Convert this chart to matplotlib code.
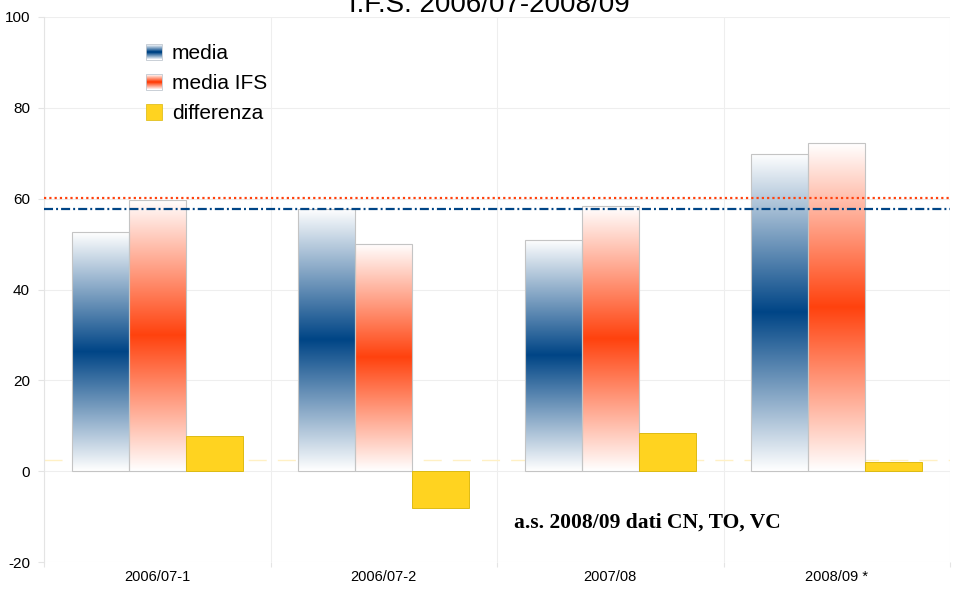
"""
I.F.S. 2006/07-2008/09 — grouped gradient bars with mean lines.
Saves to out.png.
"""

import numpy as np
import matplotlib
matplotlib.use("Agg")
import matplotlib.pyplot as plt
import matplotlib.patches as mpatches
from matplotlib.colors import to_rgb
from matplotlib.legend_handler import HandlerBase

matplotlib.rcParams.update({
    "font.family": ["Liberation Sans", "DejaVu Sans"],
    "font.size": 11,
    "lines.scale_dashes": False,
    "axes.unicode_minus": False,
})

# ── Data ────────────────────────────────────────────────────────────────────
categories = ["2006/07-1", "2006/07-2", "2007/08", "2008/09 *"]
media      = [52.6, 57.7, 50.9, 69.9]
media_ifs  = [59.8, 50.0, 58.3, 72.2]
differenza = [7.7, -8.1, 8.5, 2.1]
series_names = ["media", "media IFS", "differenza"]
y_ticks = [-20, 0, 20, 40, 60, 80, 100]

title = "I.F.S. 2006/07-2008/09"
note = "a.s. 2008/09 dati CN, TO, VC"

BLUE   = "#004586"
RED    = "#ff420e"
YELLOW = "#ffd320"


def axial(color, n=256):
    """white -> color -> white, top to bottom"""
    c = np.array(to_rgb(color))
    w = np.ones(3)
    t = 1 - np.abs(np.linspace(-1, 1, n))[:, None]
    return w + (c - w) * t


class GradientHandler(HandlerBase):
    def __init__(self, color, **kw):
        super().__init__(**kw)
        self.color = color

    def create_artists(self, legend, orig_handle, xdescent, ydescent,
                       width, height, fontsize, trans):
        side = min(width, height)
        x0 = -xdescent + (width - side) / 2
        y0 = -ydescent + (height - side) / 2
        cols = axial(self.color, 15)
        n = len(cols)
        arts = []
        for i, c in enumerate(cols):
            r = mpatches.Rectangle((x0, y0 + side * (n - 1 - i) / n), side, side / n,
                                   facecolor=c, edgecolor="none", transform=trans)
            arts.append(r)
        arts.append(mpatches.Rectangle((x0, y0), side, side, facecolor="none",
                                       edgecolor="#c0c8d0", lw=0.6, transform=trans))
        return arts


class SolidHandler(HandlerBase):
    def create_artists(self, legend, orig_handle, xdescent, ydescent,
                       width, height, fontsize, trans):
        side = min(width, height)
        x0 = -xdescent + (width - side) / 2
        y0 = -ydescent + (height - side) / 2
        return [mpatches.Rectangle((x0, y0), side, side, facecolor=YELLOW,
                                   edgecolor="#e0c020", lw=0.6, transform=trans)]


fig = plt.figure(figsize=(9.58, 5.89), dpi=100)
ax = fig.add_axes([44 / 958, 27 / 589, 906 / 958, 545 / 589])

x = np.arange(len(categories))
bw = 0.252

b_media = ax.bar(x - bw, media, width=bw, facecolor="none",
                 edgecolor="#c4c4c4", linewidth=0.8, zorder=4)
b_ifs = ax.bar(x, media_ifs, width=bw, facecolor="none",
               edgecolor="#c4c4c4", linewidth=0.8, zorder=4)
b_diff = ax.bar(x + bw, differenza, width=bw, facecolor=YELLOW,
                edgecolor="#d8b400", linewidth=0.6, zorder=4)

# gradient fill inside each bar
for bars, col in [(b_media, BLUE), (b_ifs, RED)]:
    grad = axial(col)[:, None, :]
    for p in bars:
        x0, y0 = p.get_x(), p.get_y()
        w, h = p.get_width(), p.get_height()
        ax.imshow(grad, extent=[x0, x0 + w, y0, y0 + h],
                  aspect="auto", origin="upper", zorder=3,
                  interpolation="bilinear")

# mean lines
ax.axhline(np.mean(differenza), color="#fff0c4", lw=1.0,
           linestyle=(0, (13, 8)), zorder=2)
ax.axhline(np.mean(media_ifs), color=RED, lw=1.6,
           linestyle=(0, (1.6, 2.2)), zorder=5)
ax.axhline(np.mean(media), color=BLUE, lw=1.6,
           linestyle=(0, (6.5, 2.2, 1.4, 2.2)), zorder=5)

# axes, grid
ax.set_xlim(-0.5, len(categories) - 0.5)
ax.set_ylim(-20, 100)
ax.set_yticks(y_ticks)
ax.set_xticks(x)
ax.set_xticklabels(categories, fontsize=10.5)
ax.set_xticks(np.arange(len(categories) + 1) - 0.5, minor=True)
ax.tick_params(axis="x", which="major", length=0, pad=6)
ax.tick_params(axis="x", which="minor", length=3.5, color="#e4e4e4", width=0.8)
ax.tick_params(axis="y", length=4, color="#e4e4e4", width=0.8, pad=6, labelsize=11)
ax.grid(axis="y", which="major", color="#eeeeee", linewidth=0.8, zorder=0)
ax.grid(axis="x", which="minor", color="#eeeeee", linewidth=0.8, zorder=0)
ax.set_axisbelow(True)
for s in ["top", "right", "bottom"]:
    ax.spines[s].set_visible(False)
ax.spines["left"].set_color("#e4e4e4")
ax.spines["left"].set_linewidth(0.8)

# note
ax.text(2.162, -11.4, note, ha="center", va="center",
        fontsize=15.5, fontweight="bold", family=["Liberation Serif", "DejaVu Serif"])

# title (clipped at the top like the original)
fig.text(489 / 958, 1 - 12 / 589, title, ha="center", va="baseline", fontsize=20)

# legend
handles = [mpatches.Patch(label=n) for n in series_names]
hmap = {handles[0]: GradientHandler(BLUE), handles[1]: GradientHandler(RED),
        handles[2]: SolidHandler()}
fig.legend(handles=handles, handler_map=hmap, loc="upper left",
           bbox_to_anchor=(146 / 958, 1 - 44 / 589), frameon=False,
           fontsize=15, handlelength=0.8, handleheight=0.8,
           handletextpad=0.45, labelspacing=0.52, borderpad=0, borderaxespad=0)

fig.savefig("out.png", dpi=100)
